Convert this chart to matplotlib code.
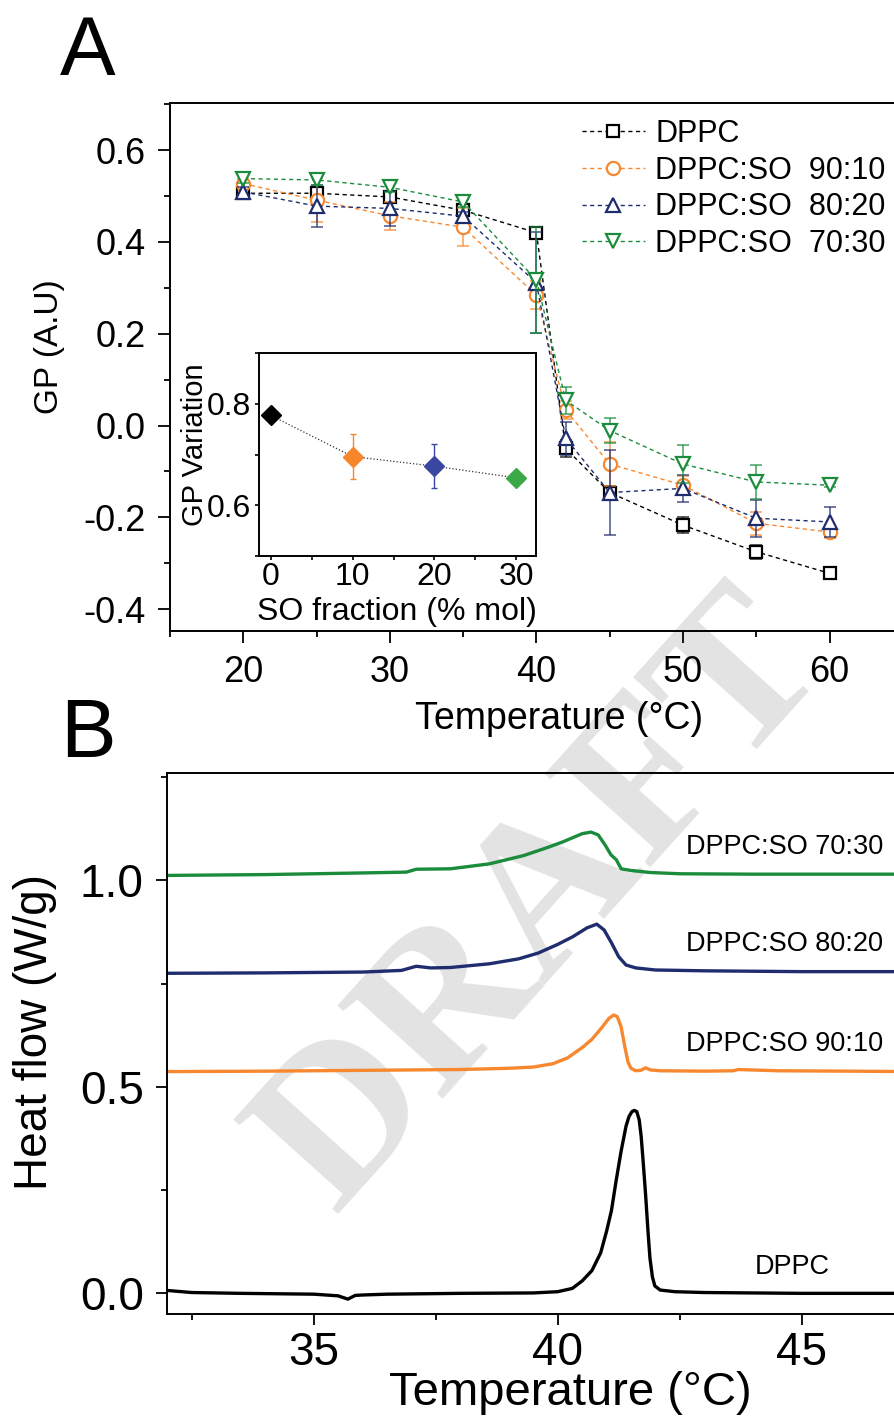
import numpy as np
import matplotlib
matplotlib.use('Agg')
import matplotlib.pyplot as plt
from matplotlib.ticker import MultipleLocator, FormatStrFormatter

plt.rcParams['font.family'] = ['Liberation Sans', 'DejaVu Sans']
plt.rcParams['axes.unicode_minus'] = False

# ---- panel A : GP vs temperature ----
temp_gp = [20, 25, 30, 35, 40, 42, 45, 50, 55, 60]
gp_dppc = [0.506, 0.506, 0.498, 0.469, 0.420, -0.050, -0.146, -0.217, -0.275, -0.322]
err_dppc = [0.010, 0.010, 0.010, 0.010, 0.010, 0.018, 0.015, 0.018, 0.015, 0.010]
gp_9010 = [0.527, 0.491, 0.457, 0.432, 0.284, 0.034, -0.084, -0.130, -0.213, -0.232]
err_9010 = [0.010, 0.048, 0.031, 0.041, 0.030, 0.020, 0.048, 0.020, 0.025, 0.012]
gp_8020 = [0.509, 0.478, 0.473, 0.456, 0.311, -0.028, -0.146, -0.137, -0.202, -0.210]
err_8020 = [0.010, 0.046, 0.038, 0.010, 0.110, 0.036, 0.093, 0.030, 0.040, 0.033]
gp_7030 = [0.538, 0.535, 0.519, 0.487, 0.317, 0.055, -0.011, -0.084, -0.123, -0.130]
err_7030 = [0.010, 0.010, 0.010, 0.010, 0.115, 0.030, 0.027, 0.041, 0.038, 0.005]

# inset : GP variation vs SO fraction
so_frac = [0, 10, 20, 30]
gp_var = [0.777, 0.696, 0.677, 0.654]
gp_var_err = [0.0, 0.044, 0.043, 0.0]

# ---- panel B : DSC thermograms ----
t_dppc = [32.0, 32.5, 33.5, 35.0, 35.5, 35.7, 35.85, 36.0, 36.5, 38.0, 39.5, 40.0, 40.3, 40.5,
          40.7, 40.88, 41.0, 41.1, 41.2, 41.3, 41.4, 41.46, 41.52, 41.57, 41.62, 41.67, 41.71,
          41.75, 41.8, 41.85, 41.89, 41.94, 41.99, 42.1, 42.4, 43.0, 45.0, 47.2]
hf_dppc = [0.007, 0.002, 0.0, -0.002, -0.006, -0.014, -0.005, -0.004, -0.002, 0.0, 0.001, 0.004,
           0.012, 0.030, 0.055, 0.098, 0.150, 0.200, 0.275, 0.345, 0.405, 0.428, 0.440, 0.443,
           0.440, 0.420, 0.380, 0.320, 0.240, 0.150, 0.085, 0.040, 0.018, 0.008, 0.004, 0.002,
           0.0, 0.0]
t_9010 = [32.0, 34.0, 36.0, 38.0, 39.0, 39.5, 39.9, 40.2, 40.5, 40.7, 40.9, 41.05, 41.15, 41.22,
          41.3, 41.37, 41.44, 41.5, 41.6, 41.7, 41.8, 41.9, 42.1, 43.0, 43.6, 43.7, 44.5, 46.0, 47.2]
hf_9010 = [0.537, 0.538, 0.540, 0.542, 0.545, 0.548, 0.556, 0.570, 0.595, 0.615, 0.643, 0.666,
           0.674, 0.670, 0.645, 0.600, 0.560, 0.545, 0.539, 0.540, 0.546, 0.541, 0.539, 0.538,
           0.539, 0.542, 0.539, 0.538, 0.537]
t_8020 = [32.0, 34.0, 36.0, 36.8, 37.1, 37.4, 37.8, 38.6, 39.2, 39.6, 40.0, 40.3, 40.6, 40.8,
          40.95, 41.1, 41.25, 41.4, 41.6, 42.0, 43.0, 45.0, 47.2]
hf_8020 = [0.775, 0.776, 0.778, 0.782, 0.792, 0.788, 0.789, 0.798, 0.810, 0.824, 0.845, 0.863,
           0.885, 0.894, 0.880, 0.849, 0.815, 0.795, 0.788, 0.783, 0.781, 0.779, 0.779]
t_7030 = [32.0, 34.0, 36.0, 36.9, 37.1, 37.8, 38.6, 39.3, 39.8, 40.1, 40.3, 40.5, 40.68, 40.83,
          40.98, 41.09, 41.2, 41.3, 41.5, 41.9, 42.5, 44.0, 47.2]
hf_7030 = [1.012, 1.014, 1.018, 1.020, 1.027, 1.028, 1.040, 1.060, 1.080, 1.093, 1.103, 1.113,
           1.117, 1.110, 1.084, 1.062, 1.050, 1.028, 1.024, 1.019, 1.016, 1.015, 1.015]

c_black = 'black'
c_orange = '#F7882F'
c_navy = '#1F2D6E'
c_green = '#1A8C3C'

fig = plt.figure(figsize=(8.95, 14.18), dpi=100)
W, H = 895.0, 1418.0

# watermark behind everything
fig.text(545 / W, 1 - 905 / H, 'DRAFT', fontsize=155, family='Liberation Serif', weight='bold',
         color='#e3e3e3', rotation=48, ha='center', va='center', rotation_mode='anchor', zorder=-1)

# ---------------- panel A ----------------
axA = fig.add_axes([170 / W, 1 - 630.7 / H, 732.8 / W, 527.4 / H])
axA.set_facecolor('none')
seriesA = [(gp_dppc, err_dppc, c_black, 's', 8, 'DPPC'),
           (gp_9010, err_9010, c_orange, 'o', 9.5, 'DPPC:SO  90:10'),
           (gp_8020, err_8020, c_navy, '^', 10.5, 'DPPC:SO  80:20'),
           (gp_7030, err_7030, c_green, 'v', 10.5, 'DPPC:SO  70:30')]
for vals, errs, col, mk, ms, lab in seriesA:
    axA.errorbar(temp_gp, vals, yerr=errs, fmt='none', ecolor=col, elinewidth=1.2,
                 capsize=4, capthick=1.2, alpha=0.75)
    axA.plot(temp_gp, vals, ls=(0, (3, 2.5)), lw=1.0, color=col, marker=mk, ms=ms,
             mfc='white', mec=col, mew=1.6, label=lab)
axA.set_xlim(15, 65)
axA.set_ylim(-0.447, 0.702)
axA.xaxis.set_major_locator(MultipleLocator(10))
axA.xaxis.set_minor_locator(MultipleLocator(5))
axA.yaxis.set_major_locator(MultipleLocator(0.2))
axA.yaxis.set_minor_locator(MultipleLocator(0.1))
axA.yaxis.set_major_formatter(FormatStrFormatter('%.1f'))
axA.tick_params(which='major', direction='out', length=8.5, width=1.3, labelsize=26)
axA.tick_params(axis='y', which='major', pad=9)
axA.tick_params(axis='x', which='major', pad=9)
axA.tick_params(which='minor', direction='out', length=4, width=1.3)
for sp in axA.spines.values():
    sp.set_linewidth(1.4)
axA.legend(loc='upper left', bbox_to_anchor=(581.7 / W, 1 - 119 / H),
           bbox_transform=fig.transFigure, frameon=False, fontsize=22, numpoints=1,
           handlelength=2.07, handletextpad=0.33, labelspacing=0.22,
           borderpad=0, borderaxespad=0)

fig.text(88 / W, 1 - 75 / H, 'A', fontsize=60, ha='center', va='baseline')
fig.text(50 / W, 1 - 347 / H, 'GP (A.U)', fontsize=24, rotation=90, ha='center', va='center')
fig.text(559 / W, 1 - 729 / H, 'Temperature (°C)', fontsize=27, ha='center', va='baseline')

# ---------------- inset ----------------
axIn = fig.add_axes([259.3 / W, 1 - 556 / H, 276.7 / W, 203 / H])
axIn.set_facecolor('none')
axIn.plot(so_frac, gp_var, ls=':', lw=0.9, color='#333333', zorder=1)
inset_cols = ['black', '#F5862A', '#3A47A0', '#3AAA48']
for x, y, e, c in zip(so_frac, gp_var, gp_var_err, inset_cols):
    axIn.errorbar([x], [y], yerr=[e], fmt='D', color=c, ms=10, capsize=2,
                  elinewidth=1, capthick=1, zorder=2)
axIn.set_xlim(-1.4, 32.4)
axIn.set_ylim(0.5, 0.9)
axIn.xaxis.set_major_locator(MultipleLocator(10))
axIn.xaxis.set_minor_locator(MultipleLocator(5))
axIn.yaxis.set_major_locator(MultipleLocator(0.2))
axIn.yaxis.set_minor_locator(MultipleLocator(0.1))
axIn.yaxis.set_major_formatter(FormatStrFormatter('%.1f'))
axIn.tick_params(which='both', direction='out', length=3, width=1.2, labelsize=23)
axIn.tick_params(axis='x', which='major', pad=1)
axIn.tick_params(axis='y', which='major', pad=3)
for sp in axIn.spines.values():
    sp.set_linewidth(1.4)
fig.text(195 / W, 1 - 445 / H, 'GP Variation', fontsize=21, rotation=90, ha='center', va='center')
fig.text(397 / W, 1 - 620 / H, 'SO fraction (% mol)', fontsize=23, ha='center', va='baseline')

# ---------------- panel B ----------------
axB = fig.add_axes([167.3 / W, 1 - 1314 / H, 741.8 / W, 541 / H])
axB.set_facecolor('none')
for tt, hh, col in [(t_dppc, hf_dppc, c_black), (t_9010, hf_9010, c_orange),
                    (t_8020, hf_8020, c_navy), (t_7030, hf_7030, c_green)]:
    axB.plot(tt, hh, color=col, lw=2.4, solid_joinstyle='round')
axB.set_xlim(32, 47.2)
axB.set_ylim(-0.05, 1.26)
axB.xaxis.set_major_locator(MultipleLocator(5))
axB.xaxis.set_minor_locator(MultipleLocator(2.5))
axB.yaxis.set_major_locator(MultipleLocator(0.5))
axB.yaxis.set_minor_locator(MultipleLocator(0.25))
axB.yaxis.set_major_formatter(FormatStrFormatter('%.1f'))
axB.tick_params(which='major', direction='out', length=8, width=1.3, labelsize=33)
axB.tick_params(axis='y', which='major', pad=9)
axB.tick_params(axis='x', which='major', pad=4)
axB.tick_params(which='minor', direction='out', length=4.5, width=1.3)
for sp in axB.spines.values():
    sp.set_linewidth(1.4)

axB.text(42.63, 1.065, 'DPPC:SO 70:30', fontsize=19.5, ha='left', va='baseline')
axB.text(42.63, 0.829, 'DPPC:SO 80:20', fontsize=19.5, ha='left', va='baseline')
axB.text(42.63, 0.587, 'DPPC:SO 90:10', fontsize=19.5, ha='left', va='baseline')
axB.text(44.03, 0.048, 'DPPC', fontsize=19.5, ha='left', va='baseline')

fig.text(88 / W, 1 - 757 / H, 'B', fontsize=60, ha='center', va='baseline')
fig.text(35 / W, 1 - 1032 / H, 'Heat flow (W/g)', fontsize=33, rotation=90, ha='center', va='center')
fig.text(570 / W, 1 - 1405 / H, 'Temperature (°C)', fontsize=34, ha='center', va='baseline')

fig.savefig('out.png', dpi=100, facecolor='white')
